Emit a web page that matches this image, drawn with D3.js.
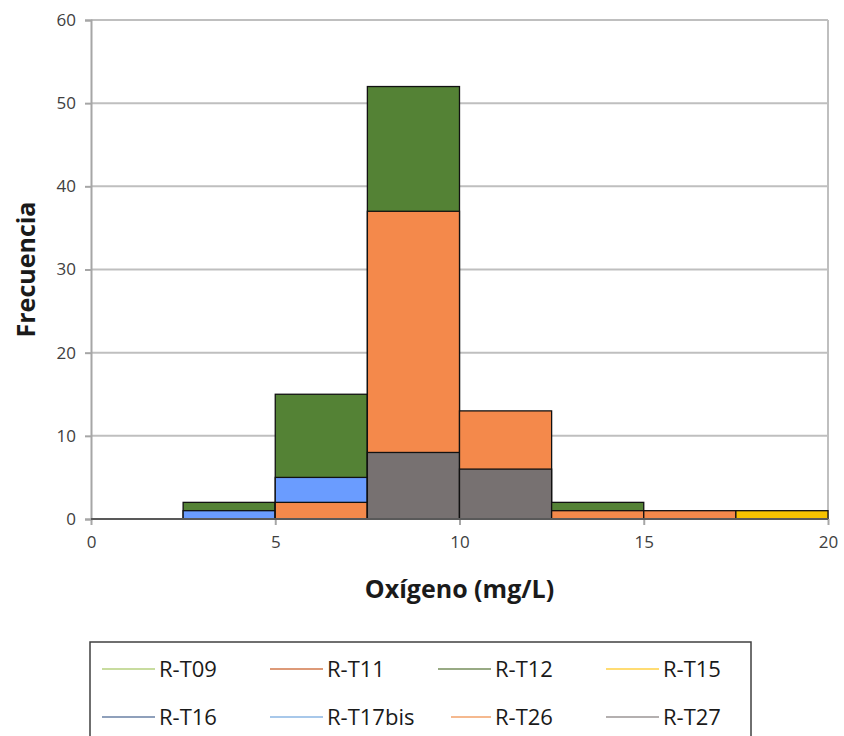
<!DOCTYPE html>
<html>
<head>
<meta charset="utf-8">
<script src="https://cdn.jsdelivr.net/npm/d3@7"></script>
<style>
  body { margin: 0; background: #fff; }
  text { font-family: "Open Sans", "Liberation Sans", sans-serif; }
</style>
</head>
<body>
<div id="chartdiv"></div>
<script>
// bin edges of the histogram (mg/L)
const binStart = [0, 2.5, 5, 7.5, 10, 12.5, 15, 17.5];
const binWidth = 2.5;
const series = ["R-T09", "R-T11", "R-T12", "R-T15", "R-T16", "R-T17bis", "R-T26", "R-T27"];
// frequency per bin, one array per station
const rT09    = [0, 0, 0, 0, 0, 0, 0, 0];
const rT11    = [0, 0, 0, 0, 0, 0, 0, 0];
const rT12    = [0, 2, 15, 52, 0, 2, 0, 0];
const rT15    = [0, 0, 0, 0, 0, 0, 0, 1];
const rT16    = [0, 0, 0, 0, 0, 0, 0, 0];
const rT17bis = [0, 1, 5, 0, 0, 0, 0, 0];
const rT26    = [0, 0, 2, 37, 13, 1, 1, 0];
const rT27    = [0, 0, 0, 8, 6, 0, 0, 0];
const xTicks = [0, 5, 10, 15, 20];
const yTicks = [0, 10, 20, 30, 40, 50, 60];

const values = [rT09, rT11, rT12, rT15, rT16, rT17bis, rT26, rT27];
const barColor = ["#9bbb59", "#e07b50", "#548235", "#f5c200", "#3b5ea8", "#6a9cff", "#f4894b", "#777171"];
const lineColor = ["#c8dc9f", "#dd9a78", "#98aa84", "#ffdc73", "#8fa0bb", "#a8c8ea", "#f5b98f", "#b4b0b0"];

const W = 844, H = 736;
const margin = { top: 20, right: 16, bottom: 217, left: 91 };
const width = W - margin.left - margin.right;
const height = H - margin.top - margin.bottom;

const svg = d3.select("#chartdiv").append("svg")
  .attr("width", W).attr("height", H);
const g = svg.append("g")
  .attr("transform", "translate(" + margin.left + "," + margin.top + ")");

const x = d3.scaleLinear().domain([0, 20]).range([0, width]);
const y = d3.scaleLinear().domain([0, 60]).range([height, 0]);

// grid lines
g.selectAll(".grid").data(yTicks.filter(d => d > 0)).enter().append("line")
  .attr("x1", 0).attr("x2", width)
  .attr("y1", d => y(d)).attr("y2", d => y(d))
  .attr("stroke", "#bfbfbf").attr("stroke-width", 2);
g.append("line")
  .attr("x1", width).attr("x2", width).attr("y1", 0).attr("y2", height)
  .attr("stroke", "#bfbfbf").attr("stroke-width", 2);

// bars: overlapping, tallest at the back
const bars = [];
binStart.forEach((b, i) => {
  const inBin = series.map((s, k) => ({ s: s, k: k, b: b, v: values[k][i] }))
    .filter(d => d.v > 0)
    .sort((a, c) => c.v - a.v);
  inBin.forEach(d => bars.push(d));
});
g.selectAll(".bar").data(bars).enter().append("rect")
  .attr("x", d => x(d.b))
  .attr("width", d => x(d.b + binWidth) - x(d.b))
  .attr("y", d => y(d.v))
  .attr("height", d => y(0) - y(d.v))
  .attr("fill", d => barColor[d.k])
  .attr("stroke", "#111").attr("stroke-width", 1.3);

// axes
const yAxis = g.append("g")
  .call(d3.axisLeft(y).tickValues(yTicks).tickSize(6).tickPadding(9));
yAxis.select(".domain").attr("stroke", "#a6a6a6").attr("stroke-width", 2);
yAxis.selectAll(".tick line").attr("stroke", "#a6a6a6").attr("stroke-width", 2);
yAxis.selectAll("text").style("font-size", "17px").attr("fill", "#404040");

const xAxis = g.append("g")
  .attr("transform", "translate(0," + height + ")")
  .call(d3.axisBottom(x).tickValues(xTicks).tickSize(6).tickPadding(11));
xAxis.select(".domain").remove();
xAxis.selectAll(".tick line").attr("stroke", "#a6a6a6").attr("stroke-width", 2);
xAxis.selectAll("text").style("font-size", "17px").attr("fill", "#404040");
g.append("line")
  .attr("x1", 0).attr("x2", width).attr("y1", height).attr("y2", height)
  .attr("stroke", "#595959").attr("stroke-width", 2);

// axis titles
svg.append("text")
  .attr("x", margin.left + x(10)).attr("y", 598)
  .attr("text-anchor", "middle")
  .style("font-size", "25px").style("font-weight", "bold").attr("fill", "#1a1a1a")
  .text("Oxígeno (mg/L)");
svg.append("text")
  .attr("transform", "translate(35," + (margin.top + y(30)) + ") rotate(-90)")
  .attr("text-anchor", "middle")
  .style("font-size", "25px").style("font-weight", "bold").attr("fill", "#1a1a1a")
  .text("Frecuencia");

// legend
const leg = svg.append("g");
leg.append("rect")
  .attr("x", 90).attr("y", 642).attr("width", 661).attr("height", 110)
  .attr("fill", "none").attr("stroke", "#404040").attr("stroke-width", 1.5);
const item = leg.selectAll(".item").data(series).enter().append("g")
  .attr("transform", (d, i) => "translate(" + (159 + (i % 4) * 168) + "," + (669 + Math.floor(i / 4) * 48) + ")");
item.append("line")
  .attr("x1", (d, i) => i == 6 ? -44 : -57).attr("x2", -4).attr("y1", 0).attr("y2", 0)
  .attr("stroke", (d, i) => lineColor[i]).attr("stroke-width", 2);
item.append("text")
  .attr("x", 0).attr("y", 8)
  .style("font-size", "22px").attr("fill", "#1a1a1a")
  .text(d => d);
</script>
</body>
</html>
